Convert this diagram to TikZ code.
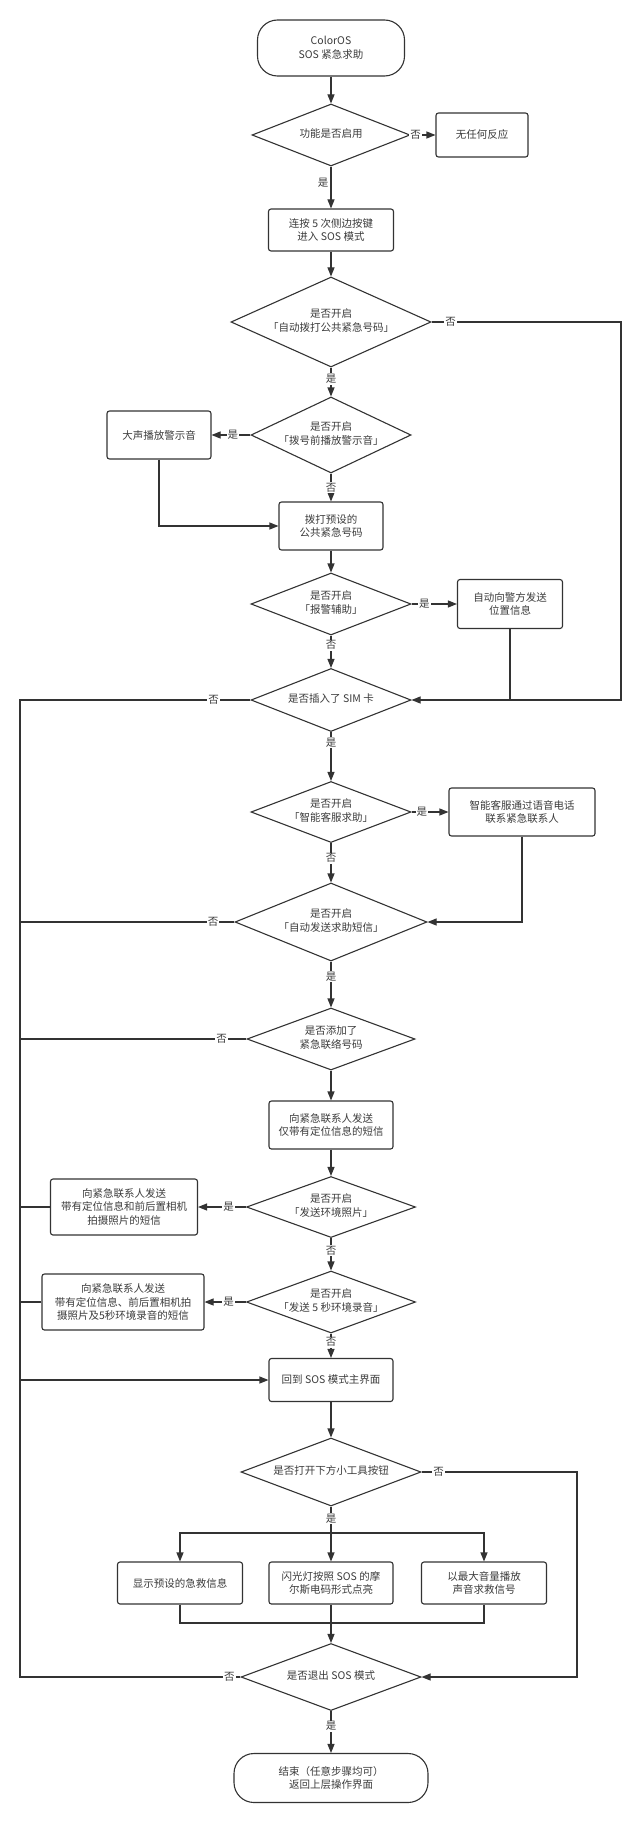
\documentclass[tikz,border=0pt]{standalone}
\usepackage{fontspec}
\setmainfont{Noto Sans CJK SC}
\usetikzlibrary{shapes.geometric,arrows.meta,calc}
\definecolor{ln}{HTML}{333333}
\definecolor{tx}{HTML}{3C3C3C}
\newcommand\dtx[1]{\smash{\makebox[0pt]{\raisebox{-0.25em}{\begin{tabular}{@{}c@{}}#1\end{tabular}}}}}
\tikzset{
  base/.style={draw=ln, line width=1.1pt, text=tx, font=\fontsize{10.5}{13.5}\selectfont, align=center, inner sep=0pt},
  box/.style={base, rectangle, rounded corners=2.5pt},
  term/.style={base, rectangle, rounded corners=20pt},
  dia/.style={base, diamond},
  line/.style={draw=ln, line width=1.1pt},
  arr/.style={line, -{Triangle[length=9pt,width=7pt]}},
  lbl/.style={fill=white, text=tx, font=\fontsize{10.5}{12}\selectfont, inner sep=1pt},
}
\begin{document}
\begin{tikzpicture}[x=1pt,y=1pt]
\fill[white] (0,0) rectangle (641,-1822);
\useasboundingbox (0,0) rectangle (641,-1822);
% nodes
\node[term, minimum width=147, minimum height=56] (start) at (331,-48) {ColorOS\\SOS 紧急求助};
\node[dia, minimum width=158, minimum height=62] (d1) at (331,-135) {\dtx{功能是否启用}};
\node[box, minimum width=92, minimum height=44] (nr) at (482,-135) {无任何反应};
\node[box, minimum width=125, minimum height=42] (b2) at (331,-230) {连按 5 次侧边按键\\进入 SOS 模式};
\node[dia, minimum width=200, minimum height=90] (d3) at (331,-322) {\dtx{是否开启\\「自动拨打公共紧急号码」}};
\node[dia, minimum width=160, minimum height=76] (d4) at (331,-435) {\dtx{是否开启\\「拨号前播放警示音」}};
\node[box, minimum width=104, minimum height=48] (bL) at (159,-435) {大声播放警示音};
\node[box, minimum width=104, minimum height=48] (b3) at (331,-526) {拨打预设的\\公共紧急号码};
\node[dia, minimum width=160, minimum height=62] (d5) at (331,-604) {\dtx{是否开启\\「报警辅助」}};
\node[box, minimum width=105, minimum height=49] (bP) at (510,-604) {自动向警方发送\\位置信息};
\node[dia, minimum width=160, minimum height=63] (d6) at (331,-700) {\dtx{是否插入了 SIM 卡}};
\node[dia, minimum width=160, minimum height=61] (d7) at (331,-812) {\dtx{是否开启\\「智能客服求助」}};
\node[box, minimum width=146, minimum height=48] (bS) at (522,-812) {智能客服通过语音电话\\联系紧急联系人};
\node[dia, minimum width=192, minimum height=78] (d8) at (331,-922) {\dtx{是否开启\\「自动发送求助短信」}};
\node[dia, minimum width=168, minimum height=62] (d9) at (331,-1039) {\dtx{是否添加了\\紧急联络号码}};
\node[box, minimum width=124, minimum height=48] (b9) at (331,-1125) {向紧急联系人发送\\仅带有定位信息的短信};
\node[dia, minimum width=169, minimum height=61] (d10) at (331,-1207) {\dtx{是否开启\\「发送环境照片」}};
\node[box, minimum width=147, minimum height=56] (bPh) at (124,-1207) {向紧急联系人发送\\带有定位信息和前后置相机\\拍摄照片的短信};
\node[dia, minimum width=169, minimum height=62] (d11) at (331,-1302) {\dtx{是否开启\\「发送 5 秒环境录音」}};
\node[box, minimum width=162, minimum height=56] (bRec) at (123,-1302) {向紧急联系人发送\\带有定位信息、前后置相机拍\\摄照片及5秒环境录音的短信};
\node[box, minimum width=124, minimum height=43] (ret) at (331,-1380) {回到 SOS 模式主界面};
\node[dia, minimum width=180, minimum height=68] (d12) at (331,-1472) {\dtx{是否打开下方小工具按钮}};
\node[box, minimum width=125, minimum height=42] (tA) at (180,-1583) {显示预设的急救信息};
\node[box, minimum width=124, minimum height=42] (tB) at (331,-1583) {闪光灯按照 SOS 的摩\\尔斯电码形式点亮};
\node[box, minimum width=125, minimum height=42] (tC) at (484,-1583) {以最大音量播放\\声音求救信号};
\node[dia, minimum width=180, minimum height=67] (d13) at (331,-1677) {\dtx{是否退出 SOS 模式}};
\node[term, minimum width=194, minimum height=49] (end) at (331,-1778) {结束（任意步骤均可）\\返回上层操作界面};
% helper coordinates
\coordinate (rx) at (621,0);
\coordinate (rx2) at (577,0);
\coordinate (lx) at (20,0);
\coordinate (split) at (331,-1533);
\coordinate (merge) at (331,-1623);
% connectors
\draw[arr] (start) -- (d1);
\draw[arr] (d1) -- node[lbl, pos=0.2]{否} (nr);
\draw[arr] (d1) -- node[lbl, pos=0.38, left=1pt, fill=none]{是} (b2);
\draw[arr] (b2) -- (d3);
\draw[arr] (d3.east) -- node[lbl, pos=0.1]{否} (d3.east -| rx) |- (d6.east);
\draw[arr] (d3) -- node[lbl, pos=0.4]{是} (d4);
\draw[arr] (d4) -- node[lbl, pos=0.45]{是} (bL);
\draw[arr] (d4) -- node[lbl, pos=0.5]{否} (b3);
\draw[arr] (bL) |- (b3);
\draw[arr] (b3) -- (d5);
\draw[arr] (d5) -- node[lbl, pos=0.28]{是} (bP);
\draw[line] (bP.south) -- (bP.south |- d6.east);
\draw[arr] (d5) -- node[lbl, pos=0.3]{否} (d6);
\draw[line] (d6.west) -- node[lbl, pos=0.16]{否} (d6.west -| lx) -- (ret.west -| lx);
\draw[arr] (d6) -- node[lbl, pos=0.22]{是} (d7);
\draw[arr] (d7) -- node[lbl, pos=0.28]{是} (bS);
\draw[arr] (bS.south) |- (d8.east);
\draw[arr] (d7) -- node[lbl, pos=0.38]{否} (d8);
\draw[line] (d8.west) -- node[lbl, pos=0.1]{否} (d8.west -| lx);
\draw[arr] (d8) -- node[lbl, pos=0.32]{是} (d9);
\draw[line] (d9.west) -- node[lbl, pos=0.11]{否} (d9.west -| lx);
\draw[arr] (d9) -- (b9);
\draw[arr] (b9) -- (d10);
\draw[arr] (d10) -- node[lbl, pos=0.36]{是} (bPh);
\draw[line] (bPh.west) -- (bPh.west -| lx);
\draw[arr] (d10) -- node[lbl, pos=0.38]{否} (d11);
\draw[arr] (d11) -- node[lbl, pos=0.42]{是} (bRec);
\draw[line] (bRec.west) -- (bRec.west -| lx);
\draw[arr] (d11) -- node[lbl, pos=0.35]{否} (ret);
\draw[arr] (ret.west -| lx) -- (ret.west);
\draw[arr] (ret) -- (d12);
\draw[arr] (d12.east) -- node[lbl, pos=0.11]{否} (d12.east -| rx2) |- (d13.east);
\draw[line] (d12.south) -- node[lbl, pos=0.45]{是} (split);
\draw[arr] (split) -| (tA.north);
\draw[arr] (split) -| (tC.north);
\draw[arr] (split) -- (tB.north);
\draw[line] (tA.south) |- (merge) -| (tC.south);
\draw[arr] (tB) -- (d13);
\draw[line] (d13.west) -- node[lbl, pos=0.05]{否} (d13.west -| lx) -- (ret.west -| lx);
\draw[arr] (d13) -- node[lbl, pos=0.36]{是} (end);
\end{tikzpicture}
\end{document}
